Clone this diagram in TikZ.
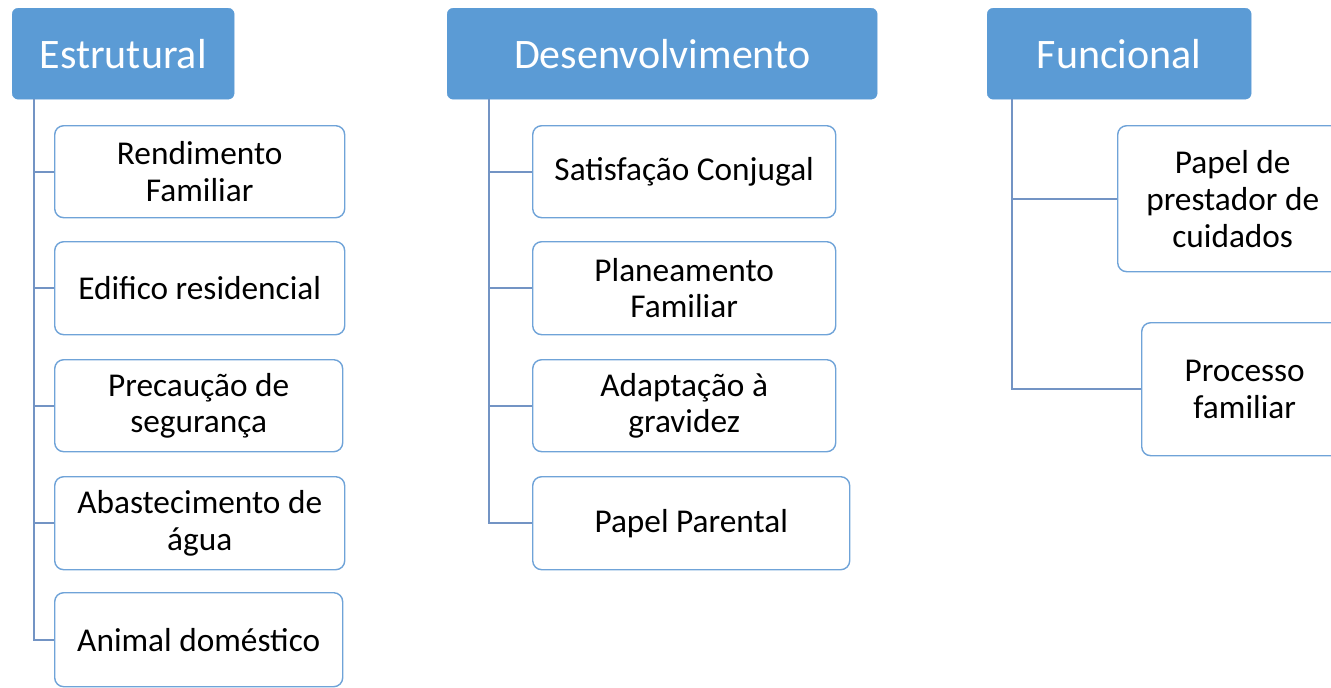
\documentclass[tikz,border=0pt]{standalone}
\usepackage{fontspec}
\setmainfont{Carlito}
\definecolor{hdrfill}{HTML}{5B9BD5}
\definecolor{boxline}{HTML}{6FA3D8}
\definecolor{conline}{HTML}{7394C4}
\tikzset{
  hdr/.style={draw=hdrfill, fill=hdrfill, rounded corners=6pt, anchor=north west,
    text=white, font=\fontsize{42}{48}\selectfont, inner sep=0pt, align=center},
  leaf/.style={draw=boxline, line width=1.4pt, fill=white, rounded corners=9pt, anchor=north west,
    text=black, font=\fontsize{33.3}{36.5}\selectfont, inner sep=0pt, align=center},
  con/.style={draw=conline, line width=1.8pt}
}
\begin{document}
\begin{tikzpicture}[x=1pt,y=-1pt]
\useasboundingbox (0,0) rectangle (1331,688);
\clip (0,0) rectangle (1331,688);
% headers
\node[hdr, minimum width=222pt, minimum height=91pt] (h1) at (12,8) {Estrutural};
\node[hdr, minimum width=430pt, minimum height=91pt] (h2) at (447,8) {Desenvolvimento};
\node[hdr, minimum width=264pt, minimum height=91pt] (h3) at (987,8) {Funcional};
\coordinate (r1) at (34,99);
\coordinate (r2) at (489,99);
\coordinate (r3) at (1012,99);
% Estrutural
\node[leaf, minimum width=290pt, minimum height=92pt] (e1) at (54,125) {Rendimento\\Familiar};
\node[leaf, minimum width=290pt, minimum height=93pt] (e2) at (54,241) {Edifico residencial};
\node[leaf, minimum width=288pt, minimum height=92pt] (e3) at (54,359) {Precaução de\\segurança};
\node[leaf, minimum width=290pt, minimum height=93pt] (e4) at (54,476) {Abastecimento de\\água};
\node[leaf, minimum width=288pt, minimum height=94pt] (e5) at (54,592) {Animal doméstico};
% Desenvolvimento
\node[leaf, minimum width=303pt, minimum height=92pt] (d1) at (532,125) {Satisfação Conjugal};
\node[leaf, minimum width=303pt, minimum height=93pt] (d2) at (532,241) {Planeamento\\Familiar};
\node[leaf, minimum width=303pt, minimum height=92pt] (d3) at (532,359) {Adaptação à\\gravidez};
\node[leaf, minimum width=317pt, minimum height=93pt] (d4) at (532,476) {Papel Parental};
% Funcional
\node[leaf, minimum width=230pt, minimum height=146pt, font=\fontsize{33.3}{37}\selectfont] (f1) at (1117,125) {Papel de\\prestador de\\cuidados};
\node[leaf, minimum width=206pt, minimum height=133pt] (f2) at (1141,322) {Processo\\familiar};
% connectors
\foreach \c in {e1,e2,e3,e4,e5} \draw[con] (r1) |- (\c.west);
\foreach \c in {d1,d2,d3,d4} \draw[con] (r2) |- (\c.west);
\foreach \c in {f1,f2} \draw[con] (r3) |- (\c.west);
\end{tikzpicture}
\end{document}
